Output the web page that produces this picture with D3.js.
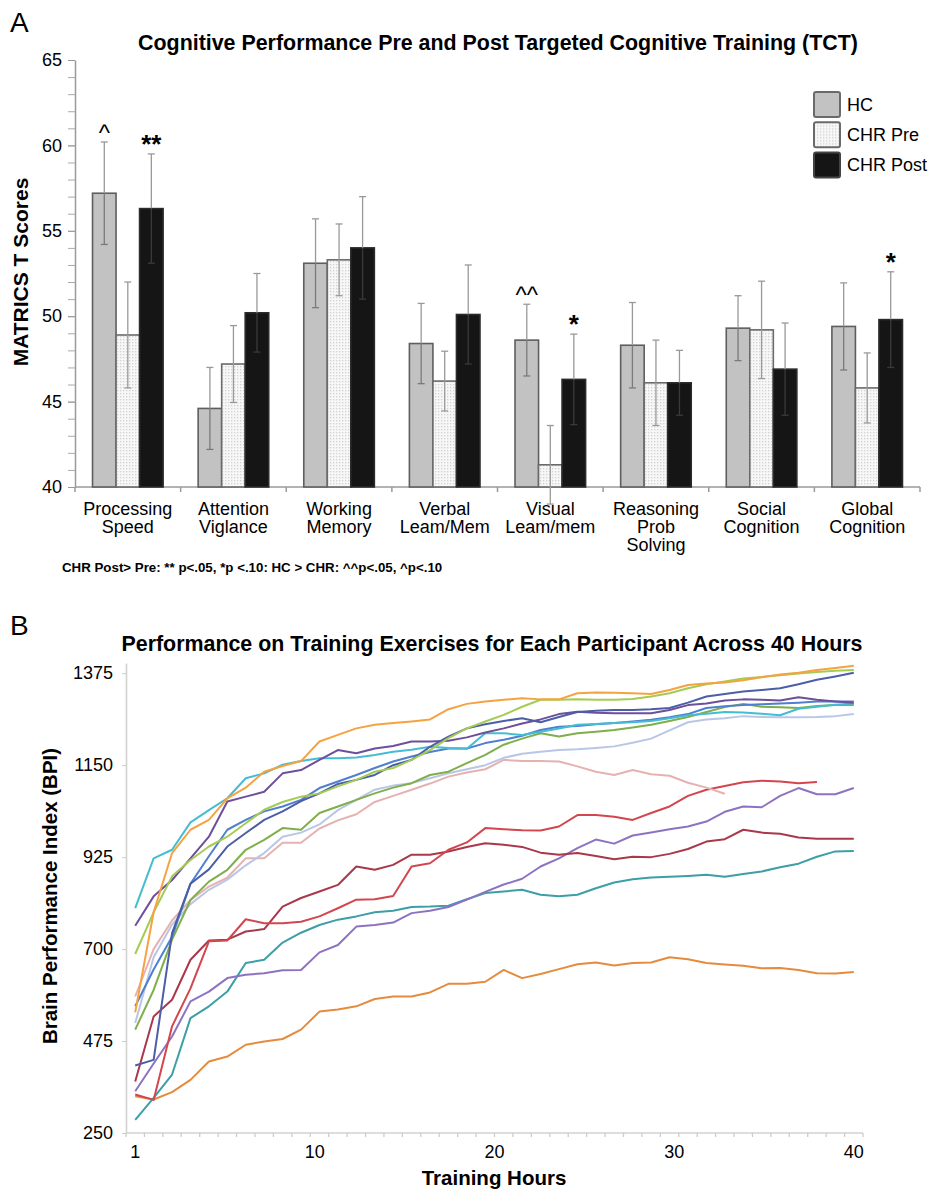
<!DOCTYPE html>
<html lang="en">
<head>
<meta charset="UTF-8" />
<title>TCT cognitive performance and training curves</title>
<script src="https://d3js.org/d3.v7.min.js"></script>
<style>
  body { margin: 0; background: #fff; }
  text { font-family: "Liberation Sans", Arial, Helvetica, sans-serif; fill: #000; }
</style>
</head>
<body>
<script>

// ---------- Panel A data ----------
var domains = ["Processing Speed", "Attention Viglance", "Working Memory", "Verbal Leam/Mem",
               "Visual Leam/mem", "Reasoning Prob Solving", "Social Cognition", "Global Cognition"];
var domainLines = [["Processing", "Speed"], ["Attention", "Viglance"], ["Working", "Memory"],
                   ["Verbal", "Leam/Mem"], ["Visual", "Leam/mem"], ["Reasoning", "Prob", "Solving"],
                   ["Social", "Cognition"], ["Global", "Cognition"]];
var groups = ["HC", "CHR Pre", "CHR Post"];

var hcMean   = [57.2, 44.6, 53.1, 48.4, 48.6, 48.3, 49.3, 49.4];
var hcErr    = [3.0, 2.4, 2.6, 2.35, 2.1, 2.5, 1.9, 2.55];
var preMean  = [48.9, 47.2, 53.3, 46.2, 41.3, 46.1, 49.2, 45.8];
var preErr   = [3.1, 2.25, 2.1, 1.75, 2.3, 2.5, 2.85, 2.05];
var postMean = [56.3, 50.2, 54.0, 50.1, 46.3, 46.1, 46.9, 49.8];
var postErr  = [3.2, 2.3, 3.0, 2.9, 2.65, 1.9, 2.7, 2.8];

var scoreTicks = [40, 45, 50, 55, 60, 65];

// significance marks: domain index, group, symbol
var marks = [
  {d: 0, g: "HC", s: "^"},
  {d: 0, g: "CHR Post", s: "**"},
  {d: 4, g: "HC", s: "^^"},
  {d: 4, g: "CHR Post", s: "*"},
  {d: 7, g: "CHR Post", s: "*"}
];
var footnote = "CHR Post> Pre: ** p<.05, *p <.10: HC > CHR: ^^p<.05, ^p<.10";

// ---------- Panel B data ----------
var hours = d3.range(1, 41);
var hourLabels = ["1", "10", "20", "30", "40"];
var bpiTicks = [250, 475, 700, 925, 1150, 1375];

var orangeTop  = [545, 790, 935, 992, 1016, 1069, 1095, 1134, 1148, 1160, 1208, 1224, 1240, 1249, 1253, 1257, 1262, 1287, 1300, 1306,
                  1310, 1314, 1311, 1311, 1326, 1328, 1327, 1326, 1324, 1334, 1346, 1350, 1352, 1358, 1365, 1372, 1376, 1383, 1388, 1393];
var limeGreen  = [688, 790, 878, 918, 951, 975, 1008, 1041, 1060, 1073, 1081, 1098, 1114, 1134, 1143, 1163, 1187, 1216, 1240, 1257,
                  1273, 1293, 1310, 1310, 1311, 1310, 1310, 1312, 1318, 1326, 1338, 1348, 1355, 1362, 1366, 1370, 1374, 1378, 1381, 1383];
var navy       = [415, 429, 739, 860, 895, 951, 984, 1016, 1037, 1062, 1081, 1104, 1114, 1126, 1150, 1163, 1195, 1220, 1240, 1250,
                  1258, 1265, 1255, 1268, 1280, 1283, 1285, 1285, 1287, 1290, 1303, 1318, 1324, 1330, 1334, 1338, 1348, 1359, 1367, 1376];
var purpleDark = [757, 829, 869, 922, 975, 1061, 1073, 1085, 1130, 1138, 1163, 1187, 1179, 1191, 1197, 1208, 1208, 1210, 1218, 1230,
                  1240, 1252, 1262, 1275, 1281, 1278, 1277, 1277, 1277, 1285, 1297, 1301, 1308, 1311, 1310, 1308, 1316, 1310, 1306, 1303];
var royalBlue  = [560, 650, 730, 860, 927, 992, 1016, 1037, 1049, 1065, 1094, 1110, 1126, 1143, 1159, 1171, 1182, 1191, 1191, 1204,
                  1212, 1222, 1236, 1244, 1246, 1250, 1253, 1257, 1261, 1267, 1275, 1290, 1294, 1297, 1299, 1301, 1303, 1306, 1306, 1306];
var cyan       = [800, 922, 943, 1010, 1040, 1069, 1118, 1130, 1151, 1160, 1167, 1167, 1169, 1175, 1183, 1188, 1195, 1192, 1190, 1228,
                  1228, 1224, 1232, 1240, 1249, 1251, 1253, 1255, 1258, 1265, 1272, 1276, 1280, 1279, 1276, 1272, 1288, 1293, 1298, 1301];
var olive      = [503, 600, 723, 820, 865, 894, 943, 967, 996, 992, 1033, 1049, 1065, 1081, 1095, 1106, 1126, 1134, 1155, 1175,
                  1200, 1215, 1228, 1220, 1228, 1232, 1236, 1242, 1249, 1258, 1268, 1280, 1292, 1300, 1293, 1292, 1290, 1295, 1297, 1297];
var lavender   = [519, 680, 760, 810, 845, 870, 905, 935, 975, 985, 1005, 1040, 1065, 1090, 1100, 1106, 1118, 1130, 1140, 1150,
                  1168, 1178, 1183, 1187, 1189, 1192, 1196, 1205, 1215, 1235, 1255, 1262, 1265, 1270, 1268, 1267, 1267, 1268, 1270, 1275];
var pink       = [584, 700, 770, 820, 853, 875, 922, 922, 960, 960, 995, 1015, 1030, 1060, 1075, 1090, 1105, 1122, 1132, 1140,
                  1163, 1160, 1160, 1159, 1147, 1134, 1126, 1138, 1128, 1124, 1107, 1095, 1080];
var red        = [344, 331, 511, 604, 719, 721, 773, 763, 763, 767, 780, 800, 821, 822, 830, 902, 910, 943, 961, 996,
                  993, 991, 990, 1000, 1028, 1028, 1024, 1016, 1033, 1049, 1075, 1090, 1099, 1108, 1112, 1110, 1106, 1109];
var darkRed    = [376, 535, 576, 674, 721, 723, 743, 749, 804, 825, 841, 857, 902, 894, 906, 931, 931, 939, 950, 959,
                  955, 950, 936, 931, 935, 928, 920, 926, 925, 933, 945, 963, 969, 992, 985, 982, 973, 970, 970, 970];
var purpleLow  = [352, 420, 486, 572, 596, 629, 637, 641, 648, 649, 692, 710, 755, 759, 765, 788, 794, 803, 821, 840,
                  858, 872, 902, 922, 947, 968, 958, 978, 985, 993, 1000, 1012, 1036, 1049, 1047, 1075, 1094, 1079, 1079, 1094];
var teal       = [282, 336, 393, 531, 560, 596, 666, 674, 716, 740, 759, 772, 780, 790, 794, 803, 804, 806, 822, 837,
                  841, 845, 833, 829, 833, 849, 863, 871, 875, 877, 879, 882, 877, 884, 890, 900, 909, 926, 939, 940];
var orangeLow  = [340, 332, 350, 380, 425, 437, 466, 474, 480, 503, 547, 552, 560, 578, 584, 584, 594, 615, 615, 620,
                  649, 629, 639, 651, 663, 667, 660, 666, 667, 680, 675, 666, 662, 659, 653, 654, 649, 641, 640, 644];

var participants = [orangeLow, teal, purpleLow, darkRed, red, pink, lavender, olive, royalBlue, cyan, purpleDark, navy, limeGreen, orangeTop];
var lineColors   = ["#e58b3c", "#3d9fa6", "#8e72c2", "#a8384a", "#d3464e", "#e6b1b1", "#b9c6e6", "#7fae4b",
                    "#4f7fcf", "#45bcd2", "#6d4f9a", "#4b5ea6", "#a5cc52", "#f5a341"];

// ---------- svg ----------
var svg = d3.select("body").append("svg")
  .attr("width", 931)
  .attr("height", 1193);

var pat = svg.append("defs").append("pattern")
  .attr("id", "dots")
  .attr("width", 3).attr("height", 3)
  .attr("patternUnits", "userSpaceOnUse");
pat.append("rect").attr("width", 3).attr("height", 3).attr("fill", "#f7f7f7");
pat.append("rect").attr("width", 1.3).attr("height", 1.3).attr("fill", "#d2d2d2");

// ================= Panel A =================
var A = {left: 75, right: 920, top: 60, bottom: 487};

var yA = d3.scaleLinear().domain([40, 65]).range([A.bottom, A.top]);
var xA = d3.scaleBand().domain(domains).range([A.left, A.right]);
var xG = d3.scaleBand().domain(groups).range([0, xA.bandwidth()]).paddingOuter(0.745);

var gA = svg.append("g");

gA.append("text").attr("x", 10).attr("y", 32).attr("font-size", 28).text("A");
gA.append("text")
  .attr("x", 498).attr("y", 50)
  .attr("text-anchor", "middle").attr("font-size", 21.4).attr("font-weight", "bold")
  .text("Cognitive Performance Pre and Post Targeted Cognitive Training (TCT)");

gA.append("text")
  .attr("transform", "translate(28,272) rotate(-90)")
  .attr("text-anchor", "middle").attr("font-size", 21).attr("font-weight", "bold")
  .text("MATRICS T Scores");

// minor ticks
gA.append("g")
  .attr("transform", "translate(" + A.left + ",0)")
  .call(d3.axisLeft(yA).ticks(25).tickSize(7).tickSizeOuter(0).tickFormat(""))
  .call(function(g) {
    g.select(".domain").attr("stroke", "#9a9a9a").attr("stroke-width", 1.5);
    g.selectAll(".tick line").attr("stroke", "#aaa");
  });
// labelled ticks
gA.append("g")
  .attr("transform", "translate(" + A.left + ",0)")
  .call(d3.axisLeft(yA).tickValues(scoreTicks).tickSize(7).tickSizeOuter(0).tickPadding(6))
  .call(function(g) {
    g.select(".domain").remove();
    g.selectAll(".tick line").attr("stroke", "#999");
    g.selectAll(".tick text").attr("font-size", 18).attr("fill", "#000")
      .attr("font-family", "Liberation Sans, Arial, sans-serif");
  });

// x axis line and separators
gA.append("line")
  .attr("x1", A.left).attr("x2", A.right)
  .attr("y1", A.bottom).attr("y2", A.bottom)
  .attr("stroke", "#9a9a9a").attr("stroke-width", 1.5);
gA.append("g").selectAll("line")
  .data(domains.map(function(d) { return xA(d); }).concat([A.right]))
  .enter().append("line")
  .attr("x1", function(d) { return d; }).attr("x2", function(d) { return d; })
  .attr("y1", A.bottom).attr("y2", A.bottom + 5)
  .attr("stroke", "#9a9a9a").attr("stroke-width", 1.5);

// bars
var stats = {
  "HC": {mean: hcMean, err: hcErr},
  "CHR Pre": {mean: preMean, err: preErr},
  "CHR Post": {mean: postMean, err: postErr}
};
var barFill   = {"HC": "#c2c2c2", "CHR Pre": "url(#dots)", "CHR Post": "#151515"};
var barStroke = {"HC": "#5e5e5e", "CHR Pre": "#6a6a6a", "CHR Post": "#2b2b2b"};
var innerErr  = {"HC": "#7a7a7a", "CHR Pre": "#9a9a9a", "CHR Post": "#3a3a3a"};

var rows = [];
domains.forEach(function(dom, i) {
  groups.forEach(function(g) {
    rows.push({dom: dom, g: g, mean: stats[g].mean[i], err: stats[g].err[i]});
  });
});

function barX(r) { return xA(r.dom) + xG(r.g); }
function barMid(r) { return barX(r) + xG.bandwidth() / 2; }

gA.append("g").selectAll("rect")
  .data(rows).enter().append("rect")
  .attr("x", barX)
  .attr("y", function(r) { return yA(r.mean); })
  .attr("width", xG.bandwidth())
  .attr("height", function(r) { return yA(40) - yA(r.mean); })
  .attr("fill", function(r) { return barFill[r.g]; })
  .attr("stroke", function(r) { return barStroke[r.g]; })
  .attr("stroke-width", 1.6);

// error bars
var eb = gA.append("g").selectAll("g").data(rows).enter().append("g");
eb.append("line")
  .attr("x1", barMid).attr("x2", barMid)
  .attr("y1", function(r) { return yA(r.mean); })
  .attr("y2", function(r) { return yA(r.mean + r.err); })
  .attr("stroke", "#999").attr("stroke-width", 1.3);
eb.append("line")
  .attr("x1", barMid).attr("x2", barMid)
  .attr("y1", function(r) { return yA(r.mean); })
  .attr("y2", function(r) { return yA(r.mean - r.err); })
  .attr("stroke", function(r) { return innerErr[r.g]; }).attr("stroke-width", 1.3);
[1, -1].forEach(function(sign) {
  eb.append("line")
    .attr("x1", function(r) { return barMid(r) - 3.5; })
    .attr("x2", function(r) { return barMid(r) + 3.5; })
    .attr("y1", function(r) { return yA(r.mean + sign * r.err); })
    .attr("y2", function(r) { return yA(r.mean + sign * r.err); })
    .attr("stroke", function(r) { return sign > 0 ? "#999" : innerErr[r.g]; })
    .attr("stroke-width", 1.3);
});

// significance marks
gA.append("g").selectAll("text")
  .data(marks).enter().append("text")
  .attr("x", function(m) { return barMid({dom: domains[m.d], g: m.g}); })
  .attr("y", function(m) { return yA(stats[m.g].mean[m.d] + stats[m.g].err[m.d]) - 1; })
  .attr("text-anchor", "middle")
  .attr("font-size", function(m) { return m.s.indexOf("*") >= 0 ? 26 : 24; })
  .attr("font-weight", function(m) { return m.s.indexOf("*") >= 0 ? "bold" : "normal"; })
  .text(function(m) { return m.s; });

// category labels
var cat = gA.append("g").selectAll("text")
  .data(domains).enter().append("text")
  .attr("x", function(d) { return xA(d) + xA.bandwidth() / 2; })
  .attr("y", A.bottom + 28)
  .attr("text-anchor", "middle").attr("font-size", 18);
cat.selectAll("tspan")
  .data(function(d, i) { return domainLines[i]; })
  .enter().append("tspan")
  .attr("x", function() { return this.parentNode.getAttribute("x"); })
  .attr("dy", function(d, i) { return i === 0 ? 0 : 18; })
  .text(function(d) { return d; });

// legend
var leg = gA.append("g").selectAll("g")
  .data(groups).enter().append("g")
  .attr("transform", function(d, i) { return "translate(814," + (92 + i * 30.3) + ")"; });
leg.append("rect")
  .attr("width", 26).attr("height", 25).attr("rx", 2)
  .attr("fill", function(d) { return barFill[d]; })
  .attr("stroke", function(d) { return d === "CHR Post" ? "#444" : "#6a6a6a"; })
  .attr("stroke-width", 2);
leg.append("text")
  .attr("x", 33).attr("y", 18.5)
  .attr("font-size", 18)
  .text(function(d) { return d; });

gA.append("text")
  .attr("x", 62).attr("y", 572)
  .attr("font-size", 13.3).attr("font-weight", "bold")
  .text(footnote);

// ================= Panel B =================
var B = {left: 126, right: 863, top: 663, bottom: 1133};

var xB = d3.scaleBand().domain(hours).range([B.left, B.right]);
var yB = d3.scaleLinear().domain([250, 1400]).range([B.bottom, B.top]);
var xLab = d3.scalePoint().domain(hourLabels)
  .range([xB(hours[0]) + xB.bandwidth() / 2, xB(hours[hours.length - 1]) + xB.bandwidth() / 2]);

var gB = svg.append("g");

gB.append("text").attr("x", 10).attr("y", 635).attr("font-size", 28).text("B");
gB.append("text")
  .attr("x", 492).attr("y", 651)
  .attr("text-anchor", "middle").attr("font-size", 21.4).attr("font-weight", "bold")
  .text("Performance on Training Exercises for Each Participant Across 40 Hours");

gB.append("text")
  .attr("transform", "translate(57,896) rotate(-90)")
  .attr("text-anchor", "middle").attr("font-size", 20.5).attr("font-weight", "bold")
  .text("Brain Performance Index (BPI)");
gB.append("text")
  .attr("x", 494).attr("y", 1185)
  .attr("text-anchor", "middle").attr("font-size", 20.5).attr("font-weight", "bold")
  .text("Training Hours");

gB.append("g")
  .attr("transform", "translate(" + B.left + ",0)")
  .call(d3.axisLeft(yB).tickValues(bpiTicks).tickFormat(d3.format("d"))
    .tickSize(4).tickSizeOuter(0).tickPadding(9))
  .call(function(g) {
    g.select(".domain").attr("stroke", "#d2d2d2").attr("stroke-width", 1.6);
    g.selectAll(".tick line").attr("stroke", "#ccc");
    g.selectAll(".tick text").attr("font-size", 18).attr("fill", "#000")
      .attr("font-family", "Liberation Sans, Arial, sans-serif");
  });

gB.append("line")
  .attr("x1", B.left).attr("x2", B.right)
  .attr("y1", B.bottom).attr("y2", B.bottom)
  .attr("stroke", "#d2d2d2").attr("stroke-width", 1.6);
gB.append("g").selectAll("line")
  .data(hours.map(function(h) { return xB(h); }).concat([B.right]))
  .enter().append("line")
  .attr("x1", function(d) { return d; }).attr("x2", function(d) { return d; })
  .attr("y1", B.bottom).attr("y2", B.bottom + 4)
  .attr("stroke", "#ccc").attr("stroke-width", 1.3);
gB.append("g").selectAll("text")
  .data(hourLabels).enter().append("text")
  .attr("x", function(d) { return xLab(d); })
  .attr("y", B.bottom + 25)
  .attr("text-anchor", "middle").attr("font-size", 18)
  .text(function(d) { return d; });

var line = d3.line()
  .x(function(d, i) { return xB(hours[i]) + xB.bandwidth() / 2; })
  .y(function(d) { return yB(d); });

gB.append("g").selectAll("path")
  .data(participants).enter().append("path")
  .attr("d", line)
  .attr("fill", "none")
  .attr("stroke", function(d, i) { return lineColors[i]; })
  .attr("stroke-width", 2)
  .attr("stroke-linejoin", "round");

</script>
</body>
</html>
